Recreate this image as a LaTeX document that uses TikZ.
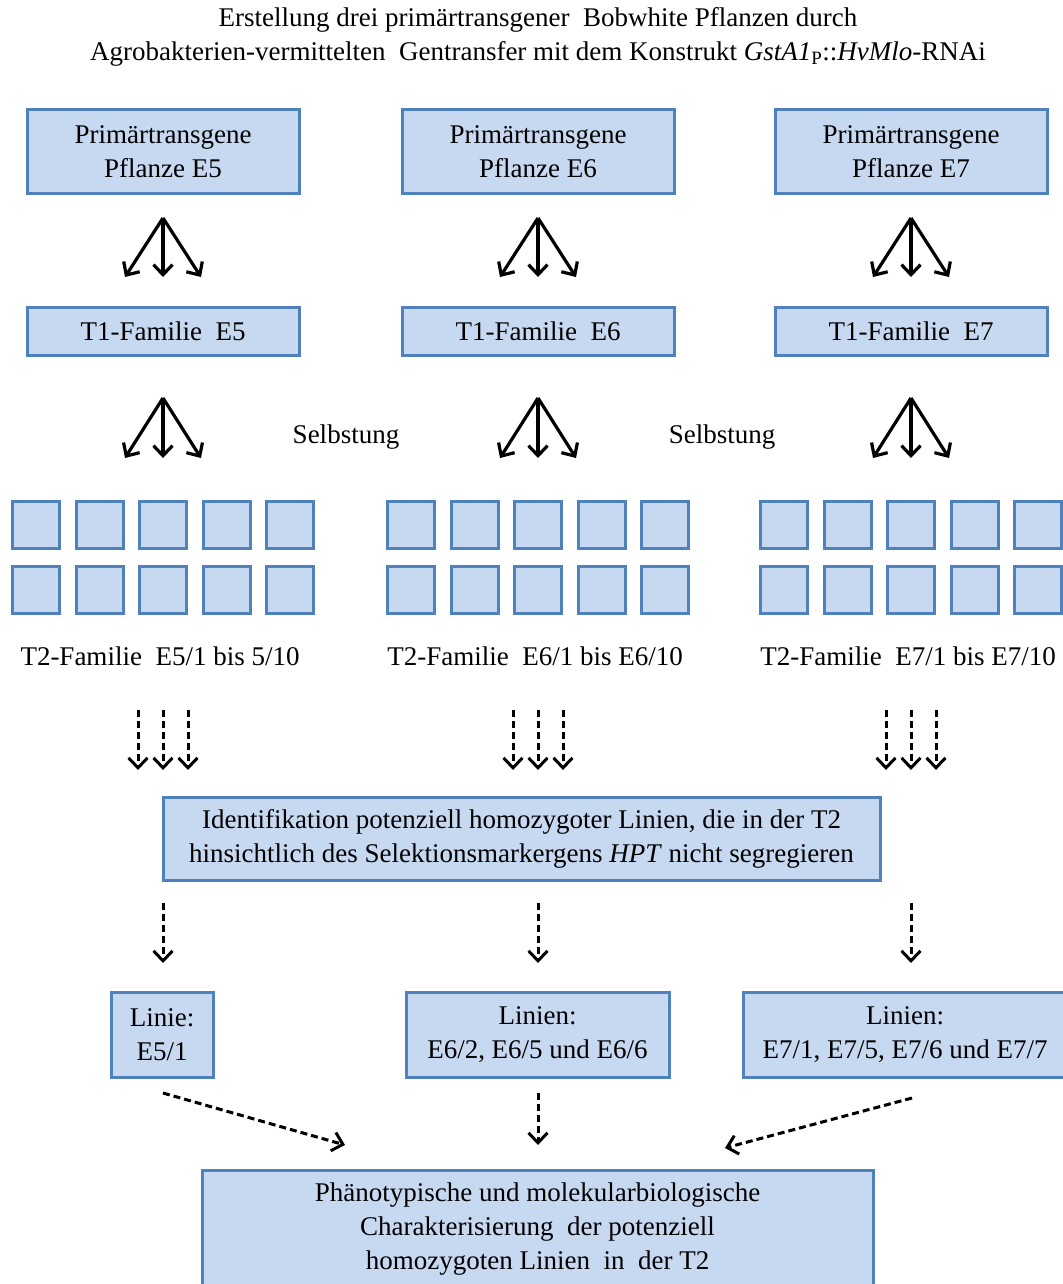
\documentclass[tikz,border=0pt]{standalone}
\usepackage{fontspec}
\setmainfont{Liberation Serif}
\usetikzlibrary{arrows.meta}
\definecolor{boxfill}{HTML}{C6D9F1}
\definecolor{boxline}{HTML}{4F81BD}
\tikzset{
  box/.style={draw=boxline, fill=boxfill, line width=3pt, align=center, inner sep=0pt},
  sq/.style={draw=boxline, fill=boxfill, line width=3pt, minimum width=47pt, minimum height=47pt, inner sep=0pt},
  txt/.style={align=center, inner sep=0pt},
  solidarr/.style={line width=3.2pt, -{Straight Barb[length=10pt,width=19pt]}},
  dasharr/.style={line width=3pt, dash pattern=on 7pt off 4pt, -{Straight Barb[length=10pt,width=19pt]}}
}
\begin{document}
\begin{tikzpicture}[x=1pt,y=-1pt, font=\fontsize{27}{34}\selectfont]
\useasboundingbox (0,0) rectangle (1062,1284);
% title
\node[txt] (title) at (538,37) {Erstellung drei primärtransgener\ \ Bobwhite Pflanzen durch\\Agrobakterien-vermittelten\ \ Gentransfer mit dem Konstrukt \textit{GstA1}\textsubscript{P}::\textit{HvMlo}-RNAi};
% columns
\foreach \n/\cx/\lab in {5/163/{E5/1 bis 5/10}, 6/538/{E6/1 bis E6/10}, 7/911/{E7/1 bis E7/10}}{
  \node[box, minimum width=272pt, minimum height=84pt] (p\n) at (\cx,152) {Primärtransgene\\Pflanze E\n};
  \node[box, minimum width=272pt, minimum height=48pt] (t\n) at (\cx,331) {T1-Familie\ \ E\n};
  \coordinate (a\n) at (\cx,218);
  \coordinate (al\n) at (\cx-38,277);
  \coordinate (am\n) at (\cx,277);
  \coordinate (ar\n) at (\cx+38,277);
  \draw[solidarr] (a\n) -- (al\n);
  \draw[solidarr] (a\n) -- (am\n);
  \draw[solidarr] (a\n) -- (ar\n);
  \coordinate (b\n) at (\cx,398);
  \coordinate (bl\n) at (\cx-38,458);
  \coordinate (bm\n) at (\cx,458);
  \coordinate (br\n) at (\cx+38,458);
  \draw[solidarr] (b\n) -- (bl\n);
  \draw[solidarr] (b\n) -- (bm\n);
  \draw[solidarr] (b\n) -- (br\n);
  \foreach \i in {0,...,4}{
    \node[sq] (s\n u\i) at (\cx-127+63.5*\i,524.5) {};
    \node[sq] (s\n d\i) at (\cx-127+63.5*\i,589.5) {};
  }
  \node[txt] (f\n) at (\cx-3,656) {T2-Familie\ \ \lab};
  \foreach \d/\k in {-25/l,0/m,25/r}{
    \coordinate (c\n\k) at (\cx+\d,710);
    \coordinate (ce\n\k) at (\cx+\d,770);
    \draw[dasharr] (c\n\k) -- (ce\n\k);
  }
  \coordinate (d\n) at (\cx,903);
  \coordinate (de\n) at (\cx,963);
  \draw[dasharr] (d\n) -- (de\n);
}
\node[txt] (self1) at (346,437) {Selbstung};
\node[txt] (self2) at (722,437) {Selbstung};
% identification box
\node[box, minimum width=717pt, minimum height=83pt] (ident) at (521.5,838.5) {Identifikation potenziell homozygoter Linien, die in der T2\\hinsichtlich des Selektionsmarkergens \textit{HPT} nicht segregieren};
% lines boxes
\node[box, minimum width=102pt, minimum height=85pt] (l5) at (162,1034.5) {Linie:\\E5/1};
\node[box, minimum width=263pt, minimum height=85pt] (l6) at (537.5,1034.5) {Linien:\\E6/2, E6/5 und E6/6};
\node[box, minimum width=324pt, minimum height=85pt] (l7) at (905,1034.5) {Linien:\\E7/1, E7/5, E7/6 und E7/7};
% final box
\node[box, minimum width=671pt, minimum height=118pt] (final) at (537.5,1229) {Phänotypische und molekularbiologische\\Charakterisierung\ \ der potenziell\\homozygoten Linien\ \ in\ \ der T2};
% final arrows
\coordinate (g5) at (163,1093);
\coordinate (ge5) at (345,1145);
\coordinate (g6) at (538,1093);
\coordinate (ge6) at (538,1145);
\coordinate (g7) at (912,1098);
\coordinate (ge7) at (725,1148);
\draw[dasharr] (g5) -- (ge5);
\draw[dasharr] (g6) -- (ge6);
\draw[dasharr] (g7) -- (ge7);
\end{tikzpicture}
\end{document}
